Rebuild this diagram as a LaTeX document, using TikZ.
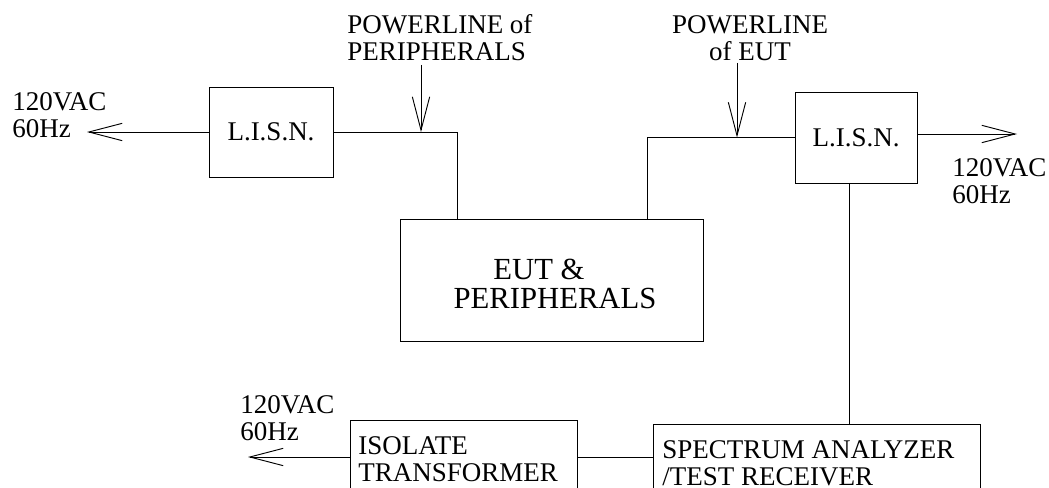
\documentclass[tikz,border=0pt]{standalone}
\usepackage{fontspec}
\setmainfont{Liberation Serif}
\usetikzlibrary{arrows.meta}
\begin{document}
\begin{tikzpicture}[x=0.75pt,y=-0.75pt,
  wire/.style={line width=0.7pt},
  arr/.style={wire,-{Straight Barb[length=25pt,width=13pt,line width=0.7pt]}},
  box/.style={draw,line width=0.7pt,inner sep=0pt},
  lbl/.style={inner sep=0pt,align=left,font=\fontsize{20.25}{20.5}\selectfont},
  big/.style={inner sep=0pt,align=center,font=\fontsize{23}{21.75}\selectfont}]
\useasboundingbox (0,0) rectangle (1049,488);
\clip (0,0) rectangle (1049,488);
% boxes
\node[box,minimum width=93pt,minimum height=67.5pt,font=\fontsize{20.25}{20.5}\selectfont] (lisn1) at (271,132) {L.I.S.N.};
\node[box,minimum width=91.5pt,minimum height=68.25pt,font=\fontsize{20.25}{20.5}\selectfont] (lisn2) at (856,137.5) {L.I.S.N.};
\node[box,minimum width=227.25pt,minimum height=91.5pt] (eut) at (551.5,280) {};
\node[big] (eutt) at (555,284) {EUT \&\hspace*{24pt}\\PERIPHERALS};
\node[box,minimum width=170.25pt,minimum height=75pt] (iso) at (463.5,470) {};
\node[box,minimum width=245.25pt,minimum height=72pt] (spec) at (816.5,472) {};
% labels
\node[lbl,anchor=north west] (t1) at (12,92) {120VAC\\60Hz};
\node[lbl,anchor=north west] (t2) at (347,14) {POWERLINE of\\PERIPHERALS};
\node[lbl,align=center,anchor=north] (t3) at (750,15) {POWERLINE\\of EUT};
\node[lbl,anchor=north west] (t4) at (952,158) {120VAC\\60Hz};
\node[lbl,anchor=north west] (t5) at (240,395) {120VAC\\60Hz};
\node[lbl,anchor=north west] (t6) at (358,436) {ISOLATE\\TRANSFORMER};
\node[lbl,anchor=north west] (t7) at (662,440) {SPECTRUM ANALYZER\\/TEST RECEIVER};
% coordinates
\coordinate (l1tip) at (87,132);
\coordinate (pp) at (421,65);
\coordinate (eA) at (457,219);
\coordinate (eB) at (647,219);
\coordinate (pe) at (737,63);
\coordinate (r1tip) at (1017,134);
\coordinate (dn) at (849,183);
\coordinate (l3tip) at (248,457);
% connectors
\draw[arr] (lisn1.west) -- (l1tip);
\draw[wire] (lisn1.east) -| (eA);
\draw[arr] (pp) -- (pp |- lisn1.east);
\draw[wire] (eB) |- (lisn2.west);
\draw[arr] (pe) -- (pe |- lisn2.west);
\draw[arr] (lisn2.east |- r1tip) -- (r1tip);
\draw[wire] (dn) -- (dn |- spec.north);
\draw[arr] (iso.west |- l3tip) -- (l3tip);
\draw[wire] (iso.east |- l3tip) -- (spec.west |- l3tip);
\end{tikzpicture}
\end{document}
